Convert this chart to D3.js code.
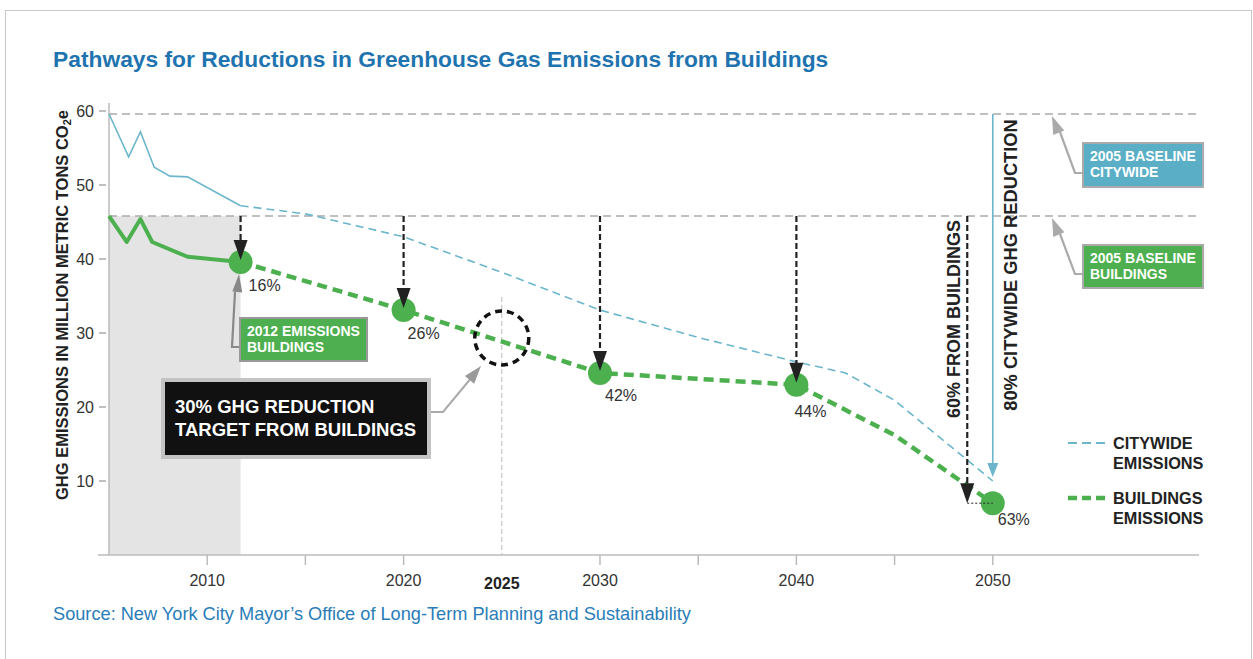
<!DOCTYPE html>
<html>
<head>
<meta charset="utf-8">
<script src="https://cdn.jsdelivr.net/npm/d3@7"></script>
<style>
  body { margin: 0; background: #fff; }
  svg { font-family: "Liberation Sans", Arial, sans-serif; }
</style>
</head>
<body>
<svg width="1253" height="659"></svg>
<script>
// values (million metric tons CO2e)
const cityHistYears = [2005, 2006, 2006.6, 2007.3, 2008.1, 2009.0, 2011.7];
const cityHistValues = [59.6, 53.8, 57.2, 52.4, 51.2, 51.1, 47.2];
const cityProjYears = [2011.7, 2015, 2020, 2025, 2030, 2035, 2040, 2042.5, 2045, 2050];
const cityProjValues = [47.2, 46.1, 43.0, 38.2, 33.1, 29.4, 26.1, 24.6, 20.9, 10.0];

const bldHistYears = [2005, 2005.9, 2006.6, 2007.2, 2009.0, 2011.7];
const bldHistValues = [45.8, 42.3, 45.4, 42.3, 40.3, 39.6];
const bldProjYears = [2011.7, 2020, 2030, 2040, 2045, 2050];
const bldProjValues = [39.6, 33.1, 24.6, 23.0, 16.2, 7.0];

const milestoneYears = [2011.7, 2020, 2030, 2040, 2050];
const milestoneValues = [39.6, 33.1, 24.6, 23.0, 7.0];
const milestoneLabels = ["16%", "26%", "42%", "44%", "63%"];

const baselineCity = 59.6;
const baselineBld = 45.8;
const targetYear = 2025;

const yTicks = [10, 20, 30, 40, 50, 60];
const xTicks = [2010, 2015, 2020, 2025, 2030, 2035, 2040, 2045, 2050];
const xTickLabels = [2010, 2020, 2030, 2040, 2050];

const svg = d3.select("svg");
const cityColor = "#6cb6cc";
const green = "#4db04f";
const dark = "#222";

const x = d3.scaleLinear().domain([2005, 2060.5]).range([109, 1199]);
const y = d3.scaleLinear().domain([0, 60]).range([555, 111]);

// frame
svg.append("rect").attr("x", 5.5).attr("y", 10.5).attr("width", 1246).attr("height", 660)
  .attr("fill", "none").attr("stroke", "#c8c8c8");

// title & source
svg.append("text").attr("x", 53).attr("y", 67)
  .attr("font-size", 22.8).attr("font-weight", "bold").attr("fill", "#1f74b0")
  .text("Pathways for Reductions in Greenhouse Gas Emissions from Buildings");
svg.append("text").attr("x", 53).attr("y", 620)
  .attr("font-size", 18.2).attr("fill", "#2a7db8")
  .text("Source: New York City Mayor\u2019s Office of Long-Term Planning and Sustainability");

// shaded historical area
svg.append("rect")
  .attr("x", x(2005)).attr("y", y(baselineBld))
  .attr("width", x(2011.7) - x(2005)).attr("height", y(0) - y(baselineBld))
  .attr("fill", "#e4e4e4");

// axes
svg.append("line").attr("x1", x(2005)).attr("x2", x(2005)).attr("y1", 103).attr("y2", y(0))
  .attr("stroke", "#bbb").attr("stroke-width", 1.5);
svg.append("line").attr("x1", 98).attr("x2", x(2060.5)).attr("y1", y(0)).attr("y2", y(0))
  .attr("stroke", "#bbb").attr("stroke-width", 1.5);

const yAxis = svg.append("g");
yAxis.selectAll("line").data(yTicks).join("line")
  .attr("x1", 99).attr("x2", 106).attr("y1", d => y(d)).attr("y2", d => y(d))
  .attr("stroke", "#aaa").attr("stroke-width", 1.5);
yAxis.selectAll("text").data(yTicks).join("text")
  .attr("x", 94).attr("y", d => y(d) + 6).attr("text-anchor", "end")
  .attr("font-size", 16).attr("fill", "#333").text(d => d);

const xAxis = svg.append("g");
xAxis.selectAll("line").data(xTicks.filter(d => d !== targetYear)).join("line")
  .attr("x1", d => x(d)).attr("x2", d => x(d)).attr("y1", y(0)).attr("y2", y(0) + 10)
  .attr("stroke", "#bbb").attr("stroke-width", 1.5);
xAxis.selectAll("text").data(xTickLabels).join("text")
  .attr("x", d => x(d)).attr("y", 586).attr("text-anchor", "middle")
  .attr("font-size", 16).attr("fill", "#333").text(d => d);
xAxis.append("text").attr("x", x(targetYear)).attr("y", 589).attr("text-anchor", "middle")
  .attr("font-size", 16).attr("font-weight", "bold").attr("fill", "#222").text(targetYear);

// y axis title
const yTitle = svg.append("text")
  .attr("transform", "translate(68,305) rotate(-90)")
  .attr("text-anchor", "middle").attr("font-size", 16.5).attr("font-weight", "bold").attr("fill", "#222");
yTitle.append("tspan").text("GHG EMISSIONS IN MILLION METRIC TONS CO");
yTitle.append("tspan").attr("font-size", 11).attr("dy", 3).text("2");
yTitle.append("tspan").attr("dy", -3).text("e");

// baselines
[baselineCity, baselineBld].forEach(v => {
  svg.append("line").attr("x1", x(2005)).attr("x2", x(2060.5)).attr("y1", y(v)).attr("y2", y(v))
    .attr("stroke", "#aaa").attr("stroke-width", 1.5).attr("stroke-dasharray", "8,5");
});

// 2025 target marker
svg.append("line").attr("x1", x(targetYear)).attr("x2", x(targetYear)).attr("y1", 297).attr("y2", y(0))
  .attr("stroke", "#bbb").attr("stroke-width", 1).attr("stroke-dasharray", "5,3");

const line = d3.line().x(d => x(d[0])).y(d => y(d[1]));

// citywide
svg.append("path").datum(d3.zip(cityHistYears, cityHistValues)).attr("d", line)
  .attr("fill", "none").attr("stroke", cityColor).attr("stroke-width", 1.6);
svg.append("path").datum(d3.zip(cityProjYears, cityProjValues)).attr("d", line)
  .attr("fill", "none").attr("stroke", cityColor).attr("stroke-width", 1.6).attr("stroke-dasharray", "8,5");

// buildings
svg.append("path").datum(d3.zip(bldHistYears, bldHistValues)).attr("d", line)
  .attr("fill", "none").attr("stroke", green).attr("stroke-width", 4).attr("stroke-linejoin", "round");
svg.append("path").datum(d3.zip(bldProjYears, bldProjValues)).attr("d", line)
  .attr("fill", "none").attr("stroke", green).attr("stroke-width", 4.5).attr("stroke-dasharray", "10,6");

// dashed target circle
svg.append("circle").attr("cx", x(targetYear)).attr("cy", 338).attr("r", 27)
  .attr("fill", "none").attr("stroke", "#111").attr("stroke-width", 3.5).attr("stroke-dasharray", "7,5");

// milestone dots
svg.selectAll(".dot").data(d3.zip(milestoneYears, milestoneValues)).join("circle")
  .attr("class", "dot").attr("cx", d => x(d[0])).attr("cy", d => y(d[1])).attr("r", 12).attr("fill", green);

const labelDx = [8, 4, 5, -2, 5];
const labelDy = [29, 29, 28, 32, 22];
svg.selectAll(".pct").data(milestoneLabels).join("text")
  .attr("class", "pct")
  .attr("x", (d, i) => x(milestoneYears[i]) + labelDx[i])
  .attr("y", (d, i) => y(milestoneValues[i]) + labelDy[i])
  .attr("font-size", 16).attr("fill", "#333").text(d => d);

function arrowHead(tx, ty, dir, w, h, color) {
  // dir: 1 = pointing down, -1 = pointing up
  return svg.append("path")
    .attr("d", `M${tx},${ty} L${tx - w / 2},${ty - dir * h} L${tx + w / 2},${ty - dir * h} Z`)
    .attr("fill", color);
}

// black dashed drop arrows from the buildings baseline to the milestones
milestoneYears.slice(0, 4).forEach((yr, i) => {
  const cx = x(yr), ty = y(milestoneValues[i]) - 2;
  svg.append("line").attr("x1", cx).attr("x2", cx).attr("y1", y(baselineBld)).attr("y2", ty - 16)
    .attr("stroke", dark).attr("stroke-width", 2.2).attr("stroke-dasharray", "6,3");
  arrowHead(cx, ty, 1, 14, 20, dark);
});

// 60% from buildings arrow
const x60 = x(2048.7);
const y2050 = y(milestoneValues[4]);
svg.append("line").attr("x1", x60).attr("x2", x60).attr("y1", y(baselineBld)).attr("y2", y2050 - 18)
  .attr("stroke", dark).attr("stroke-width", 2.2).attr("stroke-dasharray", "6,3");
arrowHead(x60, y2050, 1, 14, 20, dark);
svg.append("line").attr("x1", x60).attr("x2", x(2050)).attr("y1", y2050).attr("y2", y2050)
  .attr("stroke", dark).attr("stroke-width", 1).attr("stroke-dasharray", "2,2");
svg.append("text").attr("transform", `translate(${x60 - 7},319) rotate(-90)`)
  .attr("text-anchor", "middle").attr("font-size", 18).attr("font-weight", "bold").attr("fill", dark)
  .text("60% FROM BUILDINGS");

// 80% citywide arrow
const x80 = x(2050);
const yCity2050 = y(cityProjValues[cityProjValues.length - 1]);
svg.append("line").attr("x1", x80).attr("x2", x80).attr("y1", y(baselineCity)).attr("y2", yCity2050 - 14)
  .attr("stroke", cityColor).attr("stroke-width", 1.6);
arrowHead(x80, yCity2050 - 4, 1, 11, 14, cityColor);
svg.append("text").attr("transform", `translate(${x80 + 24},265) rotate(-90)`)
  .attr("text-anchor", "middle").attr("font-size", 18.3).attr("font-weight", "bold").attr("fill", dark)
  .text("80% CITYWIDE GHG REDUCTION");

// callout boxes
function box(bx, by, bw, bh, fill, stroke, sw, lines, fs, lh, tx) {
  svg.append("rect").attr("x", bx).attr("y", by).attr("width", bw).attr("height", bh)
    .attr("fill", fill).attr("stroke", stroke).attr("stroke-width", sw);
  lines.forEach((t, i) => {
    svg.append("text").attr("x", bx + tx).attr("y", by + lh * (i + 1) + fs * 0.15)
      .attr("font-size", fs).attr("font-weight", "bold").attr("fill", "#fff").text(t);
  });
}
function pointer(points, color, w) {
  svg.append("path").attr("d", d3.line()(points)).attr("fill", "none")
    .attr("stroke", color).attr("stroke-width", w);
}
function angledHead(fromX, fromY, tx, ty, w, h, color) {
  const a = Math.atan2(ty - fromY, tx - fromX);
  const bx = tx - h * Math.cos(a), by = ty - h * Math.sin(a);
  const px = -Math.sin(a) * w / 2, py = Math.cos(a) * w / 2;
  svg.append("path").attr("d", `M${tx},${ty} L${bx + px},${by + py} L${bx - px},${by - py} Z`).attr("fill", color);
}

// 2005 baseline citywide
pointer([[1083, 173], [1075, 173], [1060, 132]], "#aaa", 2.2);
angledHead(1075, 173, 1052, 116, 12, 18, "#aaa");
box(1083, 143, 120, 44, "#5aafc6", "#aaa", 2, ["2005 BASELINE", "CITYWIDE"], 14, 16, 7);

// 2005 baseline buildings
pointer([[1083, 274], [1075, 274], [1060, 234]], "#aaa", 2.2);
angledHead(1075, 274, 1052, 218, 12, 18, "#aaa");
box(1083, 245, 120, 43, "#4daf4f", "#aaa", 2, ["2005 BASELINE", "BUILDINGS"], 14, 16, 7);

// 2012 emissions buildings
pointer([[240, 347], [232, 347], [235, 292]], "#888", 2.2);
angledHead(232, 347, 239, 274, 10, 18, "#888");
box(240, 318, 127, 43, "#4daf4f", "#999", 2, ["2012 EMISSIONS", "BUILDINGS"], 14, 16, 7);

// 30% target box
pointer([[430, 412], [443, 412], [472, 377]], "#aaa", 2);
angledHead(443, 412, 481, 366, 12, 18, "#999");
svg.append("rect").attr("x", 163).attr("y", 380).attr("width", 266).attr("height", 77)
  .attr("fill", "#111").attr("stroke", "#c4c4c4").attr("stroke-width", 4);
svg.append("text").attr("x", 175).attr("y", 413).attr("font-size", 18.5).attr("font-weight", "bold")
  .attr("fill", "#fff").text("30% GHG REDUCTION");
svg.append("text").attr("x", 175).attr("y", 436).attr("font-size", 18.5).attr("font-weight", "bold")
  .attr("fill", "#fff").text("TARGET FROM BUILDINGS");

// legend
const legendItems = [
  { lines: ["CITYWIDE", "EMISSIONS"], color: cityColor, w: 2, dash: "9,5", y: 443 },
  { lines: ["BUILDINGS", "EMISSIONS"], color: green, w: 4.5, dash: "9,5", y: 498 }
];
legendItems.forEach(it => {
  svg.append("line").attr("x1", 1068).attr("x2", 1105).attr("y1", it.y).attr("y2", it.y)
    .attr("stroke", it.color).attr("stroke-width", it.w).attr("stroke-dasharray", it.dash);
  it.lines.forEach((t, i) => {
    svg.append("text").attr("x", 1113).attr("y", it.y + 6 + i * 19.5)
      .attr("font-size", 16.3).attr("font-weight", "bold").attr("fill", dark).text(t);
  });
});
</script>
</body>
</html>
